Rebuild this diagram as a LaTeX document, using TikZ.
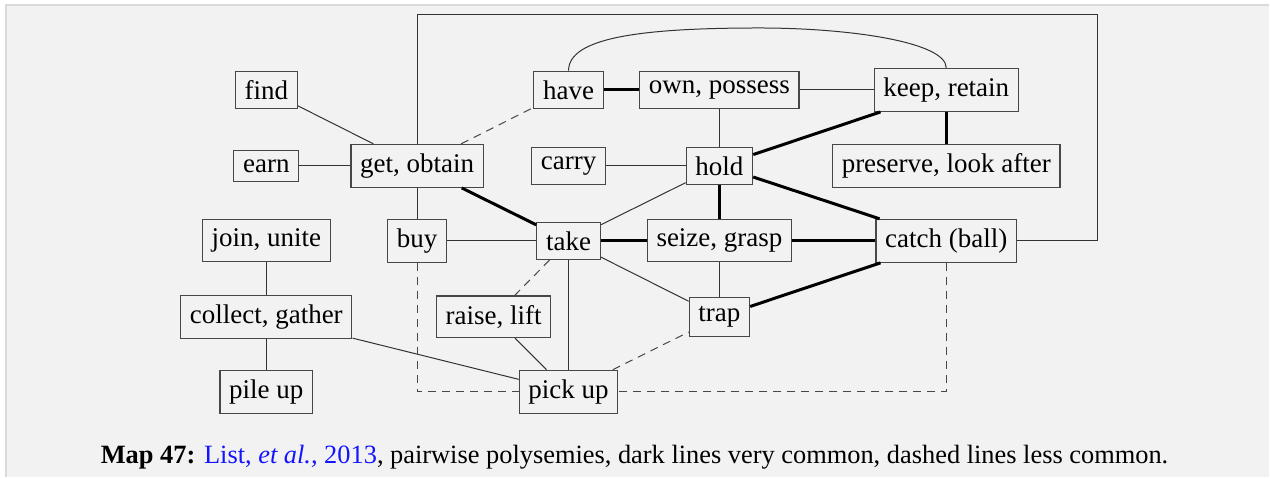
\documentclass[tikz,border=0pt]{standalone}
\usepackage{fontspec}
\setmainfont{Liberation Serif}
\definecolor{pagegray}{RGB}{242,242,242}
\definecolor{edgegray}{RGB}{218,218,218}
\definecolor{citeblue}{RGB}{20,20,255}
\begin{document}
\begin{tikzpicture}[x=0.5pt,y=-0.5pt,
    sense/.style={draw=black!72,line width=0.6pt,inner sep=4.6pt,
      font=\fontsize{13.5}{16}\selectfont},
    link/.style={draw=black!80,line width=0.5pt},
    strong/.style={draw=black,line width=1.5pt},
    rare/.style={draw=black!72,line width=0.5pt,dash pattern=on 4pt off 3pt}]
    \def\colA{266.5}
    \def\colB{417.5}
    \def\colC{569}
    \def\colD{720}
    \def\colE{947}
    % page background
    \fill[white] (0,0) rectangle (1270,477);
    \fill[pagegray] (6,5) rectangle (1270,477);
    \draw[edgegray,line width=1pt] (6,477) -- (6,5) -- (1270,5);
    \useasboundingbox (0,0) rectangle (1270,477);

    % senses
    \node[sense] (find) at (\colA,90) {find};
    \node[sense] (earn) at (\colA,166) {earn};
    \node[sense] (get) at (\colB,166) {get, obtain};
    \node[sense] (have) at (\colC,90) {have};
    \node[sense] (own) at (\colD,90) {own, possess};
    \node[sense] (keep) at (\colE,90) {keep, retain};
    \node[sense] (carry) at (\colC,166) {carry};
    \node[sense] (hold) at (\colD,166) {hold};
    \node[sense] (preserve) at (\colE,166) {preserve, look after};
    \node[sense] (join) at (\colA,241) {join, unite};
    \node[sense] (buy) at (\colB,241) {buy};
    \node[sense] (take) at (\colC,241) {take};
    \node[sense] (seize) at (\colD,241) {seize, grasp};
    \node[sense] (catch) at (\colE,241) {catch (ball)};
    \node[sense] (collect) at (\colA,317) {collect, gather};
    \node[sense] (raise) at (494,317) {raise, lift};
    \node[sense] (trap) at (\colD,317) {trap};
    \node[sense] (pile) at (\colA,392) {pile up};
    \node[sense] (pick) at (\colC,392) {pick up};

    % plain links
    \draw[link] (find) -- (get);
    \draw[link] (earn) -- (get);
    \draw[link] (get) -- (buy);
    \draw[link] (buy) -- (take);
    \draw[link] (take) -- (hold);
    \draw[link] (own) -- (hold);
    \draw[link] (carry) -- (hold);
    \draw[link] (own) -- (keep);
    \draw[link] (join) -- (collect);
    \draw[link] (collect) -- (pile);
    \draw[link] (collect) -- (pick);
    \draw[link] (raise) -- (pick);
    \draw[link] (take) -- (pick);
    \draw[link] (take) -- (trap);
    \draw[link] (seize) -- (trap);
    \draw[link] (have.north) .. controls (\colC,38) and (640,28) .. (760,28)
        .. controls (850,28) and (\colE,42) .. (keep.north);
    \coordinate (frame) at (1098,15);
    \draw[link] (get.north) |- (frame) |- (catch.east);

    % very common
    \draw[strong] (have) -- (own);
    \draw[strong] (get) -- (take);
    \draw[strong] (hold) -- (keep);
    \draw[strong] (keep) -- (preserve);
    \draw[strong] (hold) -- (seize);
    \draw[strong] (hold) -- (catch);
    \draw[strong] (take) -- (seize);
    \draw[strong] (seize) -- (catch);
    \draw[strong] (trap) -- (catch);

    % less common
    \draw[rare] (get) -- (have);
    \draw[rare] (take) -- (raise);
    \draw[rare] (pick) -- (trap);
    \draw[rare] (buy.south) |- (pick.west);
    \draw[rare] (catch.south) |- (pick.east);

    \node[font=\fontsize{13.2}{16}\selectfont] (caption) at (635,458)
    {\textbf{Map 47:} \textcolor{citeblue}{List, \textit{et al.,} 2013}, pairwise polysemies, dark lines very common, dashed lines less common.};
\end{tikzpicture}
\end{document}
